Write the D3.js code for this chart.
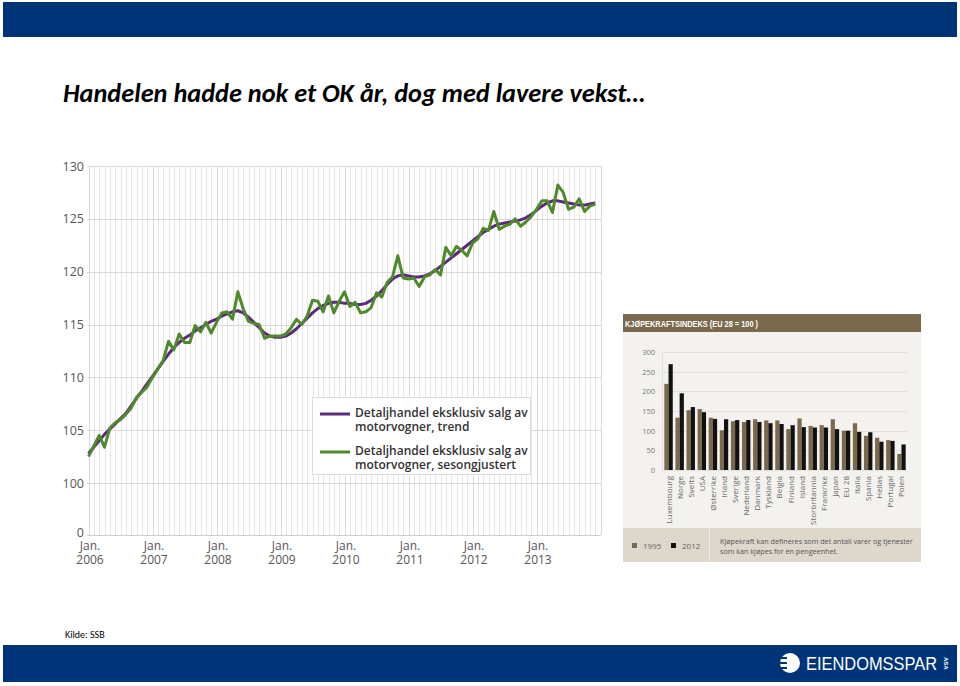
<!DOCTYPE html>
<html><head><meta charset="utf-8">
<script src="https://cdn.jsdelivr.net/npm/d3@7"></script>
<style>html,body{margin:0;padding:0;background:#fff;} svg{display:block;}</style>
</head><body><svg id="c" width="960" height="686"></svg>
<script>
// ---------- DATA ----------
const titleText = "Handelen hadde nok et OK år, dog med lavere vekst…";
const sourceText = "Kilde: SSB";
const legendLines = [
  ["Detaljhandel eksklusiv salg av", "motorvogner, trend"],
  ["Detaljhandel eksklusiv salg av", "motorvogner, sesongjustert"]
];
// Monthly index, Jan 2006 - Dec 2013
const trendValues = [
  102.8,103.4,104.0,104.6,105.1,105.6,106.1,106.6,107.3,108.0,108.7,109.4,
  110.1,110.8,111.5,112.2,112.8,113.3,113.7,114.0,114.4,114.7,115.0,115.3,
  115.5,115.8,116.0,116.2,116.3,116.1,115.7,115.2,114.7,114.2,113.9,113.8,
  113.8,113.9,114.2,114.6,115.1,115.6,116.1,116.5,116.8,117.0,117.1,117.1,
  117.0,117.0,116.9,116.9,117.0,117.3,117.7,118.2,118.8,119.3,119.6,119.7,
  119.6,119.5,119.5,119.6,119.8,120.1,120.5,120.9,121.3,121.7,122.1,122.5,
  122.9,123.3,123.7,124.0,124.3,124.5,124.6,124.7,124.8,124.9,125.1,125.4,
  125.8,126.2,126.5,126.7,126.7,126.6,126.5,126.4,126.3,126.3,126.4,126.5
];
const seasonalValues = [
  102.5,103.5,104.5,103.4,105.2,105.7,106.0,106.5,107.1,108.1,108.6,109.1,
  110.0,110.8,111.6,113.4,112.6,114.1,113.3,113.3,114.9,114.3,115.2,114.2,
  115.2,116.1,116.2,115.5,118.1,116.5,115.3,115.1,115.0,113.7,113.9,113.9,
  113.9,114.1,114.7,115.5,115.0,115.8,117.3,117.2,116.2,117.7,116.1,117.2,
  118.1,116.7,117.1,116.1,116.2,116.6,118.0,117.6,119.0,119.5,121.5,119.4,
  119.3,119.4,118.6,119.5,119.7,120.2,119.7,122.3,121.5,122.4,122.0,121.5,
  122.7,123.1,124.1,123.9,125.7,124.0,124.3,124.5,125.0,124.3,124.7,125.2,
  125.9,126.7,126.7,125.6,128.2,127.5,125.9,126.1,126.9,125.7,126.2,126.4
];
const yearLabels = ["2006","2007","2008","2009","2010","2011","2012","2013"];
const monthLabel = "Jan.";
const yTickValues = [0,100,105,110,115,120,125,130];

const barTitle = "KJØPEKRAFTSINDEKS (EU 28 = 100 )";
const countries = ["Luxembourg","Norge","Sveits","USA","Østerrike","Irland","Sverige","Nederland","Danmark","Tyskland","Belgia","Finland","Island","Storbritannia","Frankrike","Japan","EU 28","Italia","Spania","Hellas","Portugal","Polen"];
const index1995 = [219,133,152,155,133,101,124,122,129,126,126,104,131,112,114,129,100,119,87,82,76,41];
const index2012 = [269,195,160,147,130,129,127,127,122,119,117,114,109,108,108,104,100,97,96,72,74,65];
const barYears = ["1995","2012"];
const barTickValues = [0,50,100,150,200,250,300];
const barNote = ["Kjøpekraft kan defineres som det antall varer og tjenester","som kan kjøpes for én pengeenhet."];

// ---------- DRAW ----------
const svg = d3.select("#c");
const navy = "#003478";

// slide bands
svg.append("rect").attr("x",3).attr("y",2).attr("width",954).attr("height",35).attr("fill",navy);
svg.append("rect").attr("x",3).attr("y",645).attr("width",954).attr("height",37).attr("fill",navy);

svg.append("text").attr("x",63).attr("y",102).text(titleText)
  .attr("font-family","Carlito, 'Liberation Sans Narrow', 'Liberation Sans', sans-serif")
  .attr("font-weight","bold").attr("font-style","italic").attr("font-size",27)
  .attr("textLength",582).attr("lengthAdjust","spacingAndGlyphs").attr("fill","#000");

svg.append("text").attr("x",65).attr("y",638).text(sourceText)
  .attr("font-family","Carlito, 'Liberation Sans Narrow', 'Liberation Sans', sans-serif")
  .attr("font-size",10).attr("fill","#000");

// logo
const logo = svg.append("g");
logo.append("circle").attr("cx",790).attr("cy",663).attr("r",10).attr("fill","#fff");
[658,663,668].forEach(y=>logo.append("rect").attr("x",778).attr("y",y-1).attr("width",9).attr("height",2).attr("fill",navy));
logo.append("text").attr("x",806).attr("y",670).text("EIENDOMSSPAR")
  .attr("font-family","'Liberation Sans', Arial, sans-serif").attr("font-size",18)
  .attr("textLength",131).attr("lengthAdjust","spacingAndGlyphs").attr("fill","#fff");
logo.append("text").attr("transform","translate(944,657) rotate(90)").text("ASA")
  .attr("font-family","'Liberation Sans', Arial, sans-serif").attr("font-size",6).attr("font-weight","bold").attr("fill","#fff");

// ---------- left line chart ----------
const lc = svg.append("g");
const nMonths = trendValues.length;
const x = d3.scaleLinear().domain([0, nMonths]).range([88.5, 600.5]);
const y = d3.scaleLinear().domain([0,100,130]).range([535,483,166]);
const font = "'Open Sans', 'Noto Sans', sans-serif";

// vertical monthly grid
lc.append("g").selectAll("line").data(d3.range(0, nMonths+1)).join("line")
  .attr("x1",d=>Math.round(x(d))+0.5).attr("x2",d=>Math.round(x(d))+0.5)
  .attr("y1",y(130)).attr("y2",y(0))
  .attr("stroke",d=>d%12===0?"#d8d8d8":"#e6e6e6").attr("stroke-width",1);
// horizontal grid
lc.append("g").selectAll("line").data(yTickValues).join("line")
  .attr("x1",87).attr("x2",601)
  .attr("y1",d=>Math.round(y(d))+0.5).attr("y2",d=>Math.round(y(d))+0.5)
  .attr("stroke",d=>d===0?"#cfcfcf":"#d9d9d9").attr("stroke-width",1);
// y tick labels
lc.append("g").selectAll("text").data(yTickValues).join("text")
  .attr("x",84).attr("y",d=>y(d)+(d===0?2:4.5)).attr("text-anchor","end")
  .attr("font-family",font).attr("font-size",12.5).attr("fill","#555").text(d=>d);
// x tick labels (two-line, one text element each)
const xt = lc.append("g").selectAll("text").data(yearLabels).join("text")
  .attr("text-anchor","middle").attr("font-family",font)
  .attr("font-size",12).attr("fill","#555");
xt.append("tspan").attr("x",(d,i)=>x(i*12)+1.5).attr("y",550).text(monthLabel);
xt.append("tspan").attr("x",(d,i)=>x(i*12)+1.5).attr("y",564).text(d=>d);

const purple = "#5c2a7c", green = "#4e8a2c";
const line = d3.line().x((d,i)=>x(i)).y(d=>y(d)).curve(d3.curveLinear);
lc.append("path").datum(trendValues).attr("d",line).attr("fill","none")
  .attr("stroke",purple).attr("stroke-width",3).attr("stroke-linejoin","round");
lc.append("path").datum(seasonalValues).attr("d",line).attr("fill","none")
  .attr("stroke",green).attr("stroke-width",3).attr("stroke-linejoin","round");

// legend
const lg = lc.append("g");
lg.append("rect").attr("x",312.5).attr("y",397.5).attr("width",218).attr("height",77)
  .attr("fill","#fff").attr("stroke","#dcdcdc");
[[purple,414],[green,452]].forEach(([c,yy],k)=>{
  lg.append("line").attr("x1",320).attr("x2",350).attr("y1",yy).attr("y2",yy)
    .attr("stroke",c).attr("stroke-width",3);
  const t = lg.append("text").attr("font-family",font).attr("font-weight",600)
    .attr("font-size",12).attr("fill","#333");
  legendLines[k].forEach((s,j)=>{
    t.append("tspan").attr("x",355).attr("y",yy+3+j*13.5).text(s);
  });
});

// ---------- right bar chart ----------
const bc = svg.append("g");
bc.append("rect").attr("x",623).attr("y",314).attr("width",298).attr("height",248).attr("fill","#f4f2ee");
bc.append("rect").attr("x",623).attr("y",314).attr("width",298).attr("height",18).attr("fill","#7a6a4d");
bc.append("text").attr("x",625).attr("y",326.5).text(barTitle)
  .attr("font-family","'Liberation Sans Narrow', 'Liberation Sans', sans-serif").attr("font-weight","bold")
  .attr("font-size",8.5).attr("textLength",133).attr("lengthAdjust","spacingAndGlyphs").attr("fill","#fff");
bc.append("rect").attr("x",623).attr("y",528).attr("width",298).attr("height",34).attr("fill","#ddd7cc");
bc.append("line").attr("x1",709.5).attr("x2",709.5).attr("y1",528).attr("y2",562).attr("stroke","#efebe4").attr("stroke-width",1);

const by = d3.scaleLinear().domain([0,300]).range([470,352]);
const bx = d3.scaleBand().domain(countries).range([663,907]).paddingInner(0.24).paddingOuter(0.12);
const bsub = d3.scaleBand().domain(barYears).range([0,bx.bandwidth()]);

bc.append("g").selectAll("line").data(barTickValues).join("line")
  .attr("x1",662).attr("x2",907).attr("y1",d=>Math.round(by(d))+0.5).attr("y2",d=>Math.round(by(d))+0.5)
  .attr("stroke","#e4e0d8");
bc.append("line").attr("x1",662.5).attr("x2",662.5).attr("y1",by(300)).attr("y2",by(0)).attr("stroke","#e4e0d8");
bc.append("g").selectAll("text").data(barTickValues).join("text")
  .attr("x",655).attr("y",d=>by(d)+3).attr("text-anchor","end")
  .attr("font-family",font).attr("font-size",7.5).attr("fill","#777").text(d=>d);

const barColors = {"1995":"#7a6a4d","2012":"#111"};
const groups = bc.append("g").selectAll("g").data(countries).join("g")
  .attr("transform",d=>`translate(${bx(d)},0)`);
groups.append("rect").attr("x",bsub("1995")).attr("width",bsub.bandwidth())
  .attr("y",(d,i)=>by(index1995[i])).attr("height",(d,i)=>by(0)-by(index1995[i])).attr("fill",barColors["1995"]);
groups.append("rect").attr("x",bsub("2012")).attr("width",bsub.bandwidth())
  .attr("y",(d,i)=>by(index2012[i])).attr("height",(d,i)=>by(0)-by(index2012[i])).attr("fill",barColors["2012"]);
groups.append("text")
  .attr("transform",`translate(${bx.bandwidth()/2+3},476) rotate(-90)`)
  .attr("text-anchor","end").attr("font-family",font).attr("font-size",8)
  .attr("fill","#666").text(d=>d);

// bar legend
barYears.forEach((yr,k)=>{
  const lx = [632,671][k];
  bc.append("rect").attr("x",lx).attr("y",543).attr("width",5).attr("height",5).attr("fill",barColors[yr]);
  bc.append("text").attr("x",lx+11).attr("y",548.5).text(yr)
    .attr("font-family",font).attr("font-size",8).attr("fill","#666");
});
const note = bc.append("text").attr("font-family",font).attr("font-size",7.2).attr("fill","#555");
barNote.forEach((t,j)=>{
  note.append("tspan").attr("x",720).attr("y",544+j*9.5).text(t);
});
</script></body></html>
